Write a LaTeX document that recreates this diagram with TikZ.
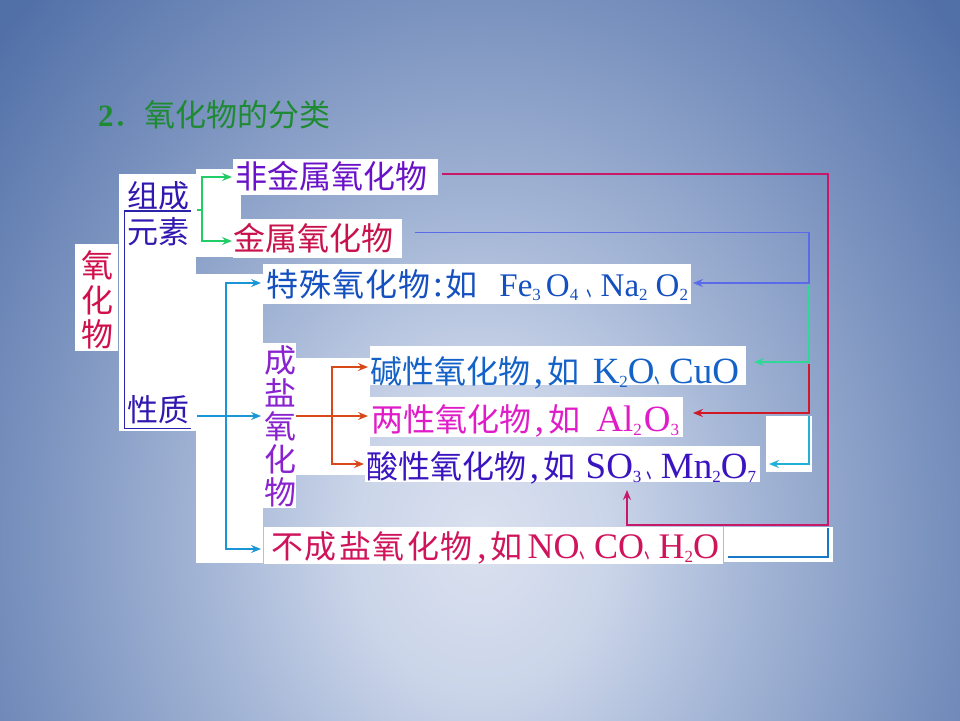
\documentclass[tikz,border=0pt]{standalone}
\usepackage{fontspec}
\setmainfont{Liberation Serif}
\newfontfamily\cjk{Noto Sans CJK SC}
\newfontfamily\cjkn[FakeStretch=0.45]{Noto Sans CJK SC}
\usetikzlibrary{arrows.meta}
\definecolor{bg0}{HTML}{DAE1EF}
\definecolor{bg1}{HTML}{CBD5E9}
\definecolor{bg2}{HTML}{A8B9D8}
\definecolor{bg3}{HTML}{7B93BF}
\definecolor{bg4}{HTML}{5270A8}
\definecolor{cTitle}{HTML}{1E8A32}
\definecolor{cA}{HTML}{D0104C}
\definecolor{cB}{HTML}{3218B0}
\definecolor{cD}{HTML}{6A12C8}
\definecolor{cE}{HTML}{C8124C}
\definecolor{cF}{HTML}{1450C0}
\definecolor{cG}{HTML}{8A22D0}
\definecolor{cH}{HTML}{1462C8}
\definecolor{cI}{HTML}{E01CC8}
\definecolor{cJ}{HTML}{3A14C0}
\definecolor{cK}{HTML}{D0145C}
\definecolor{lnBr}{HTML}{2A22A8}
\definecolor{lnGreen}{HTML}{22CC66}
\definecolor{lnCyan}{HTML}{1A96D6}
\definecolor{lnOrange}{HTML}{D84818}
\definecolor{lnCrimson}{HTML}{C81868}
\definecolor{lnBlue}{HTML}{5A6AE8}
\definecolor{lnTeal}{HTML}{30D898}
\definecolor{lnRed}{HTML}{D01828}
\definecolor{lnCyanB}{HTML}{20B0D8}
\definecolor{lnBlueB}{HTML}{1878C8}
\pgfdeclareradialshading{bgshade}{\pgfpoint{0bp}{0bp}}{color(0bp)=(bg0); color(5bp)=(bg1); color(10bp)=(bg2); color(17.5bp)=(bg3); color(25bp)=(bg4); color(50bp)=(bg4)}
\newcommand\zh[1]{{\cjk\fontsize{32}{32}\selectfont #1}}
\newcommand\zp[2]{\makebox[#1][c]{\zh{#2}}}
\newcommand\dun{{\cjkn\fontsize{32}{32}\selectfont 、}}
\newcommand\sbs[1]{\raisebox{-4pt}{\fontsize{17}{17}\selectfont #1}}
\begin{document}
\begin{tikzpicture}[x=1pt,y=-1pt,
  wbox/.style={fill=white,draw=none,inner sep=0pt,outer sep=0pt,anchor=north west},
  ch/.style={inner sep=0pt,outer sep=0pt,anchor=base,font=\cjk\fontsize{32}{32}\selectfont},
  row/.style={inner sep=0pt,outer sep=0pt,anchor=base west,font=\fontsize{37}{37}\selectfont},
  lat/.style={inner sep=0pt,outer sep=0pt,anchor=base east,font=\fontsize{37}{37}\selectfont},
  tip/.style={-{Stealth[length=10pt,width=8pt,inset=3.5pt]}},
  conn/.style={line cap=butt,line join=miter}
]
\useasboundingbox (0,0) rectangle (960,720);
\begin{scope}
\clip (0,0) rectangle (960,720);
\fill[bg4] (0,0) rectangle (960,720);
\shade[shading=bgshade] (480,540) ellipse [x radius=640pt, y radius=760pt];
\end{scope}

% white boxes
\node[wbox,minimum width=43pt,minimum height=107pt] (bA) at (75,244) {};
\node[wbox,minimum width=77pt,minimum height=257pt] (bB) at (119,174) {};
\node[wbox,minimum width=45pt,minimum height=88pt] (bGr) at (196,169) {};
\node[wbox,minimum width=205pt,minimum height=36pt] (bD) at (233,159) {};
\node[wbox,minimum width=169pt,minimum height=39pt] (bE) at (233,219) {};
\node[wbox,minimum width=67pt,minimum height=289pt] (bCy) at (196,274) {};
\node[wbox,minimum width=428pt,minimum height=40pt] (bF) at (263,264) {};
\node[wbox,minimum width=33pt,minimum height=165pt] (bG) at (263,343) {};
\node[wbox,minimum width=74pt,minimum height=117pt] (bO) at (296,358) {};
\node[wbox,minimum width=376pt,minimum height=39pt] (bH) at (370,346) {};
\node[wbox,minimum width=313pt,minimum height=40pt] (bI) at (370,397) {};
\node[wbox,minimum width=395pt,minimum height=36pt] (bJ) at (365,446) {};
\node[wbox,minimum width=459pt,minimum height=37pt] (bK) at (264,527) {};
\node[wbox,minimum width=109pt,minimum height=35pt] (bL) at (724,527) {};
\node[wbox,minimum width=46pt,minimum height=56pt] (bM) at (766,416) {};

% coordinates
\coordinate (ul1a) at (124.5,211); \coordinate (ul1b) at (191,211);
\coordinate (ul2a) at (124.5,428.5); \coordinate (ul2b) at (191,428.5);
\coordinate (gs) at (197,210); \coordinate (gv) at (202,210);
\coordinate (gD) at (232,177); \coordinate (gE) at (232,241);
\coordinate (cs) at (197,416); \coordinate (cv1) at (226,283); \coordinate (cv2) at (226,549);
\coordinate (cFt) at (261,283); \coordinate (cGt) at (261,416); \coordinate (cKt) at (261,549);
\coordinate (os) at (296,416); \coordinate (ov) at (332,416);
\coordinate (oHt) at (368,367); \coordinate (oIt) at (368,416); \coordinate (oJt) at (364,464);
\coordinate (rs) at (442,174); \coordinate (r1) at (828,174); \coordinate (r2) at (828,525);
\coordinate (r3) at (627,525); \coordinate (rt) at (627,490);
\coordinate (bs) at (415,232.5); \coordinate (b1) at (809,232.5); \coordinate (b2) at (809,283); \coordinate (bt) at (693,283);
\coordinate (t1) at (809,285); \coordinate (t2) at (809,362); \coordinate (tt) at (754,362);
\coordinate (d1) at (809,364); \coordinate (d2) at (809,413); \coordinate (dt) at (693,413);
\coordinate (c1) at (809,416); \coordinate (c2) at (809,464); \coordinate (ct) at (769,464);
\coordinate (e1) at (728,557); \coordinate (e2) at (828,557); \coordinate (e3) at (828,528);

% connectors
\draw[conn,lnBr,line width=1.5pt] (ul1b) -- (ul1a) -- (ul2a) -- (ul2b);
\draw[conn,lnGreen,line width=2pt] (gs) -- (gv);
\draw[conn,lnGreen,line width=2pt,tip] (gv) |- (gD);
\draw[conn,lnGreen,line width=2pt,tip] (gv) |- (gE);
\draw[conn,lnCyan,line width=1.6pt,tip] (cs) -- (cGt);
\draw[conn,lnCyan,line width=1.6pt,tip] (cv2) |- (cFt);
\draw[conn,lnCyan,line width=1.6pt,tip] (cv1) |- (cKt);
\draw[conn,lnOrange,line width=1.3pt,tip] (os) -- (oIt);
\draw[conn,lnOrange,line width=1.3pt,tip] (ov) |- (oHt);
\draw[conn,lnOrange,line width=1.3pt,tip] (ov) |- (oJt);
\draw[conn,lnCrimson,line width=2.5pt,tip] (rs) -- (r1) -- (r2) -- (r3) -- (rt);
\draw[conn,lnBlue,line width=1.3pt,tip] (bs) -- (b1) -- (b2) -- (bt);
\draw[conn,lnTeal,line width=2pt,tip] (t1) -- (t2) -- (tt);
\draw[conn,lnRed,line width=1.5pt,tip] (d1) -- (d2) -- (dt);
\draw[conn,lnCyanB,line width=2pt,tip] (c1) -- (c2) -- (ct);
\draw[conn,lnBlueB,line width=2.2pt] (e1) -- (e2) -- (e3);

% title
\node[inner sep=0pt,anchor=base west,text=cTitle] (title) at (98,126)
  {{\fontsize{31}{31}\selectfont\bfseries 2}{\cjk\fontsize{31}{31}\selectfont ．氧化物的分类}};

% vertical texts
\node[ch,text=cA] (tA1) at (97,277) {氧};
\node[ch,text=cA] (tA2) at (97,312) {化};
\node[ch,text=cA] (tA3) at (97,346) {物};
\node[ch,text=cG] (tG1) at (280,372) {成};
\node[ch,text=cG] (tG2) at (280,405) {盐};
\node[ch,text=cG] (tG3) at (280,438) {氧};
\node[ch,text=cG] (tG4) at (280,471) {化};
\node[ch,text=cG] (tG5) at (280,504) {物};

% left column
\node[inner sep=0pt,anchor=base west,text=cB,font=\cjk\fontsize{31}{31}\selectfont] (tB1) at (127,207) {组成};
\node[inner sep=0pt,anchor=base west,text=cB,font=\cjk\fontsize{31}{31}\selectfont] (tB2) at (127,243) {元素};
\node[inner sep=0pt,anchor=base west,text=cB,font=\cjk\fontsize{31}{31}\selectfont] (tB3) at (127,421) {性质};

% rows
\node[row,text=cD] (tD) at (235,188) {\zh{非金属氧化物}};
\node[row,text=cE] (tE) at (233,250) {\zh{金属氧化物}};
\node[row,text=cF] (tF) at (266,296) {\zp{33pt}{特}\zp{33pt}{殊}\zp{33pt}{氧}\zp{33pt}{化}\zp{33pt}{物}\makebox[14pt][c]{:}\zh{如}};
\node[lat,text=cF,font=\fontsize{33}{33}\selectfont] (fF) at (688,296)
  {Fe\sbs{3}\hspace{5pt}O\sbs{4}\hspace{8pt}\dun Na\sbs{2}\hspace{8pt}O\sbs{2}};
\node[row,text=cH] (tH) at (370,383) {\zh{碱性氧化物}\makebox[17pt][c]{,}\zh{如}};
\node[lat,text=cH] (fH) at (739,383) {K\sbs{2}O\dun CuO};
\node[row,text=cI] (tI) at (371,431) {\zh{两性氧化物}\makebox[17pt][c]{,}\zh{如}};
\node[lat,text=cI] (fI) at (679,431) {Al\sbs{2}\hspace{2pt}O\sbs{3}};
\node[row,text=cJ] (tJ) at (366,478) {\zh{酸性氧化物}\makebox[17pt][c]{,}\zh{如}};
\node[lat,text=cJ] (fJ) at (756,478) {SO\sbs{3}\hspace{5pt}\dun Mn\sbs{2}O\sbs{7}};
\node[row,text=cK] (tK) at (270,558) {\zp{34pt}{不}\zp{34pt}{成}\zp{34pt}{盐}\zp{34pt}{氧}\zp{34pt}{化}\zp{34pt}{物}\makebox[16pt][c]{,}\zh{如}};
\node[lat,text=cK,font=\fontsize{36}{36}\selectfont] (fK) at (719,558) {NO\dun CO\dun H\sbs{2}O};
\end{tikzpicture}
\end{document}
